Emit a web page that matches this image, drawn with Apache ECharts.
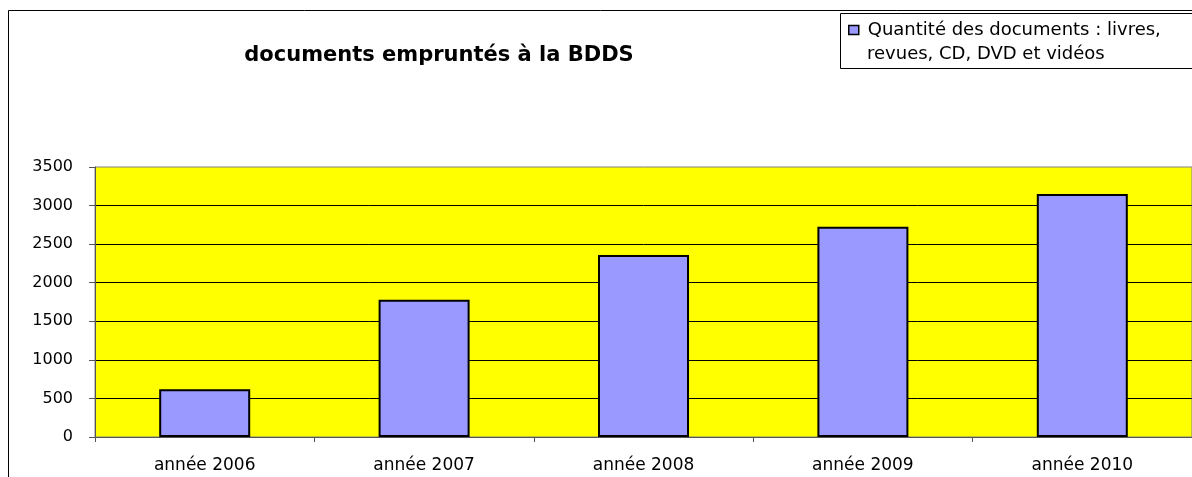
<!DOCTYPE html>
<html>
<head>
<meta charset="utf-8">
<script src="https://cdn.jsdelivr.net/npm/echarts@6/dist/echarts.min.js"></script>
<style>
    html, body { margin: 0; padding: 0; background: #fff; }
    #chart { width: 1192px; height: 477px; }
</style>
</head>
<body>
<div id="chart"></div>
<script>
    const categories = ['année 2006', 'année 2007', 'année 2008', 'année 2009', 'année 2010']
    const quantites = [620, 1780, 2360, 2725, 3150]
    const seriesName = 'Quantité des documents : livres, revues, CD, DVD et vidéos'
    const legendLines = ['Quantité des documents : livres,', 'revues, CD, DVD et vidéos']

    const myChart = echarts.init(document.getElementById('chart'))
    const font = '"DejaVu Sans", Arial, sans-serif'

    const option = {
        animation: false,
        textStyle: { fontFamily: font },
        title: {
            text: 'documents empruntés à la BDDS',
            left: 434,
            top: 40,
            textAlign: 'center',
            textStyle: { fontSize: 21, fontWeight: 'bold', color: '#000', fontFamily: font }
        },
        legend: {
            data: [seriesName],
            formatter: () => legendLines[0],
            left: 848,
            top: 21,
            icon: 'rect',
            itemWidth: 10,
            itemHeight: 9,
            padding: 0,
            itemStyle: { borderColor: '#000', borderWidth: 1.5 },
            textStyle: { fontSize: 18, color: '#000', fontFamily: font, padding: [0, 0, 0, 4] }
        },
        grid: {
            left: 95,
            right: -7,
            top: 167,
            bottom: 40,
            show: true,
            backgroundColor: '#ffff00',
            borderColor: '#808080',
            borderWidth: 1
        },
        xAxis: {
            type: 'category',
            data: categories,
            axisLine: { lineStyle: { color: '#555', width: 1 } },
            axisTick: { show: true, length: 5, lineStyle: { color: '#555' } },
            axisLabel: { fontSize: 17, color: '#000', margin: 20, fontFamily: font }
        },
        yAxis: {
            type: 'value',
            min: 0,
            max: 3500,
            interval: 500,
            axisLine: { show: true, lineStyle: { color: '#555', width: 1 } },
            axisTick: { show: true, length: 6, lineStyle: { color: '#555' } },
            axisLabel: { fontSize: 16, color: '#000', margin: 22, fontFamily: font, formatter: v => String(v) },
            splitLine: { showMaxLine: false, lineStyle: { color: '#000', width: 1 } }
        },
        series: [
            {
                name: seriesName,
                type: 'bar',
                data: quantites,
                barWidth: 91,
                itemStyle: { color: '#9999ff', borderColor: '#000', borderWidth: 2 }
            }
        ],
        graphic: [
            {
                type: 'rect',
                shape: { x: 8.5, y: 10.5, width: 1200, height: 500 },
                style: { fill: 'none', stroke: '#000', lineWidth: 1 },
                z: -10,
                silent: true
            },
            {
                type: 'rect',
                shape: { x: 840.5, y: 13.5, width: 400, height: 55 },
                style: { fill: '#fff', stroke: '#000', lineWidth: 1 },
                z: -5,
                silent: true
            },
            {
                // second line of the legend entry
                type: 'text',
                left: 867,
                top: 45,
                style: { text: legendLines[1], fontSize: 18, fill: '#000', fontFamily: font },
                silent: true
            }
        ]
    }
    myChart.setOption(option)
</script>
</body>
</html>
